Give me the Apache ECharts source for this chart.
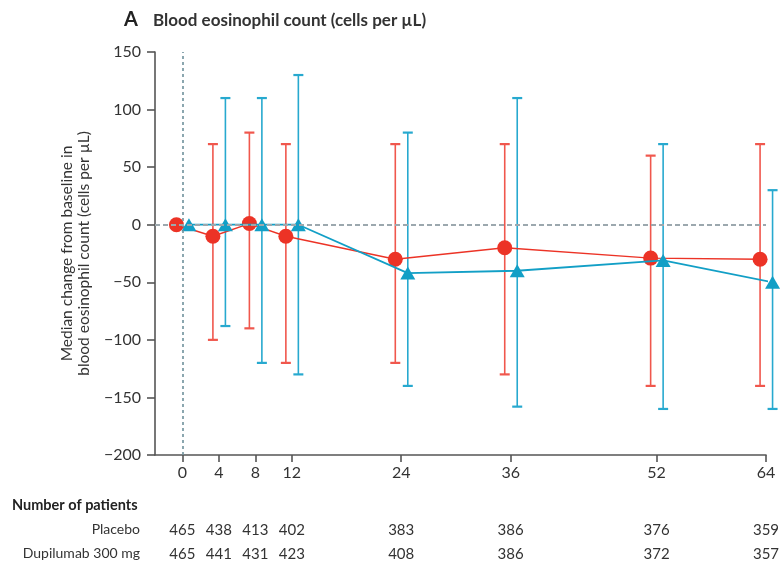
<!DOCTYPE html>
<html>
<head>
<meta charset="utf-8">
<script src="https://cdn.jsdelivr.net/npm/echarts@6/dist/echarts.min.js"></script>
<style>
  html, body { margin: 0; padding: 0; background: #fff; }
  #chart { width: 784px; height: 562px; }
</style>
</head>
<body>
<div id="chart"></div>
<script>
// Study weeks at which blood eosinophils were measured
const weeks = [0, 4, 8, 12, 24, 36, 52, 64];

// Placebo: median change and interquartile range (cells per µL)
const placeboMedian = [0, -10, 1, -10, -30, -20, -29, -30];
const placeboLow    = [null, -100, -90, -120, -120, -130, -140, -140];
const placeboHigh   = [null, 70, 80, 70, 70, 70, 60, 70];

// Dupilumab 300 mg: median change and interquartile range (cells per µL)
const dupiMedian = [0, 0, 0, 0, -42, -40, -31, -50];
const dupiLow    = [null, -88, -120, -130, -140, -158, -160, -160];
const dupiHigh   = [null, 110, 110, 130, 80, 110, 70, 30];

// Number of patients at each visit
const placeboN = [465, 438, 413, 402, 383, 386, 376, 359];
const dupiN    = [465, 441, 431, 423, 408, 386, 372, 357];

// Y axis range
const yMin = -200, yMax = 150, yStep = 50;

// ---- styling ----
const FONT = 'Lato, "Open Sans", sans-serif';
const TEXT = '#333333';
const AXIS = '#555555';
const RED = '#ec3326';
const RED_BAR = '#f0574d';
const BLUE = '#129fc6';
const BLUE_BAR = '#27a9cf';
const PLACEBO_SHIFT = -0.65;   // horizontal dodge so the two groups do not overlap
const DUPI_SHIFT = 0.72;

function points(median, shift) {
  return weeks.map((w, i) => [w + shift, median[i]]);
}

function minusSign(v) {
  return String(v).replace('-', '\u2212');
}

function errorBars(name, low, high, shift, color) {
  const data = [];
  weeks.forEach((w, i) => {
    if (low[i] != null) data.push([w + shift, low[i], high[i]]);
  });
  return {
    type: 'custom',
    name: name,
    xAxisIndex: 0,
    yAxisIndex: 0,
    clip: false,
    silent: true,
    z: 2,
    encode: { x: 0, y: [1, 2] },
    data: data,
    renderItem: function (params, api) {
      const x = api.value(0);
      const lo = api.coord([x, api.value(1)]);
      const hi = api.coord([x, api.value(2)]);
      const cap = 5;
      return {
        type: 'group',
        children: [
          { type: 'line', shape: { x1: lo[0], y1: lo[1], x2: hi[0], y2: hi[1] },
            style: { stroke: color, lineWidth: 1.6 } },
          { type: 'line', shape: { x1: lo[0] - cap, y1: lo[1], x2: lo[0] + cap, y2: lo[1] },
            style: { stroke: color, lineWidth: 2.2 } },
          { type: 'line', shape: { x1: hi[0] - cap, y1: hi[1], x2: hi[0] + cap, y2: hi[1] },
            style: { stroke: color, lineWidth: 2.2 } }
        ]
      };
    }
  };
}

function countAxis(counts, offset) {
  return {
    type: 'value',
    gridIndex: 0,
    min: -3,
    max: 64,
    position: 'bottom',
    offset: offset,
    axisLine: { show: false, onZero: false },
    axisTick: { show: false },
    splitLine: { show: false },
    axisLabel: {
      customValues: weeks,
      margin: 0,
      color: TEXT,
      fontFamily: FONT,
      fontSize: 15,
      formatter: function (v) {
        const i = weeks.indexOf(Math.round(v));
        return i >= 0 ? String(counts[i]) : '';
      }
    }
  };
}

const chart = echarts.init(document.getElementById('chart'));

chart.setOption({
  backgroundColor: '#ffffff',
  animation: false,
  textStyle: { fontFamily: FONT },
  grid: { left: 155, right: 18, top: 52, bottom: 106, containLabel: false },
  xAxis: [
    {
      type: 'value',
      min: -3,
      max: 64,
      axisLine: { show: true, onZero: false, lineStyle: { color: AXIS, width: 1.6 } },
      axisTick: { show: true, customValues: weeks, length: 7, lineStyle: { color: AXIS, width: 1.6 } },
      axisLabel: { customValues: weeks, margin: 10, color: TEXT, fontFamily: FONT, fontSize: 16 },
      splitLine: { show: false }
    },
    countAxis(placeboN, 68),
    countAxis(dupiN, 92)
  ],
  yAxis: {
    type: 'value',
    min: yMin,
    max: yMax,
    interval: yStep,
    name: 'Median change from baseline in\nblood eosinophil count (cells per µL)',
    nameLocation: 'middle',
    nameRotate: 90,
    nameGap: 62,
    nameTextStyle: { color: TEXT, fontFamily: FONT, fontSize: 15.5, lineHeight: 17 },
    axisLine: { show: true, onZero: false, lineStyle: { color: AXIS, width: 1.6 } },
    axisTick: { show: true, length: 8, lineStyle: { color: AXIS, width: 1.6 } },
    axisLabel: { margin: 14, color: TEXT, fontFamily: FONT, fontSize: 16, formatter: minusSign },
    splitLine: { show: false }
  },
  graphic: [
    { type: 'text', left: 124, top: 10, style: { text: 'A', font: 'bold 20px ' + FONT, fill: '#222' } },
    { type: 'text', left: 153, top: 12, style: { text: 'Blood eosinophil count (cells per µL)', font: 'bold 17px ' + FONT, fill: '#333' } },
    { type: 'text', left: 12, top: 498, style: { text: 'Number of patients', font: 'bold 14.5px ' + FONT, fill: '#222' } },
    { type: 'text', right: 644, top: 522, style: { text: 'Placebo', font: '14px ' + FONT, fill: TEXT } },
    { type: 'text', right: 644, top: 546, style: { text: 'Dupilumab 300 mg', font: '14px ' + FONT, fill: TEXT } }
  ],
  series: [
    errorBars('Placebo IQR', placeboLow, placeboHigh, PLACEBO_SHIFT, RED_BAR),
    errorBars('Dupilumab IQR', dupiLow, dupiHigh, DUPI_SHIFT, BLUE_BAR),
    {
      type: 'line',
      name: 'Placebo',
      xAxisIndex: 0,
      yAxisIndex: 0,
      clip: false,
      z: 3,
      data: points(placeboMedian, PLACEBO_SHIFT),
      symbol: 'circle',
      symbolSize: 15,
      lineStyle: { color: RED, width: 1.4 },
      itemStyle: { color: RED },
      markLine: {
        silent: true,
        symbol: 'none',
        label: { show: false },
        data: [
          { xAxis: 0, lineStyle: { color: '#6f919c', type: [3, 3], width: 1.6 } },
          { yAxis: 0, lineStyle: { color: '#9ca8ae', type: [5, 3], width: 1.8 } }
        ]
      }
    },
    {
      type: 'line',
      name: 'Dupilumab 300 mg',
      xAxisIndex: 0,
      yAxisIndex: 0,
      clip: false,
      z: 4,
      data: points(dupiMedian, DUPI_SHIFT),
      symbol: 'triangle',
      symbolSize: [15, 13],
      lineStyle: { color: BLUE, width: 1.8 },
      itemStyle: { color: BLUE }
    }
  ]
});
</script>
</body>
</html>
